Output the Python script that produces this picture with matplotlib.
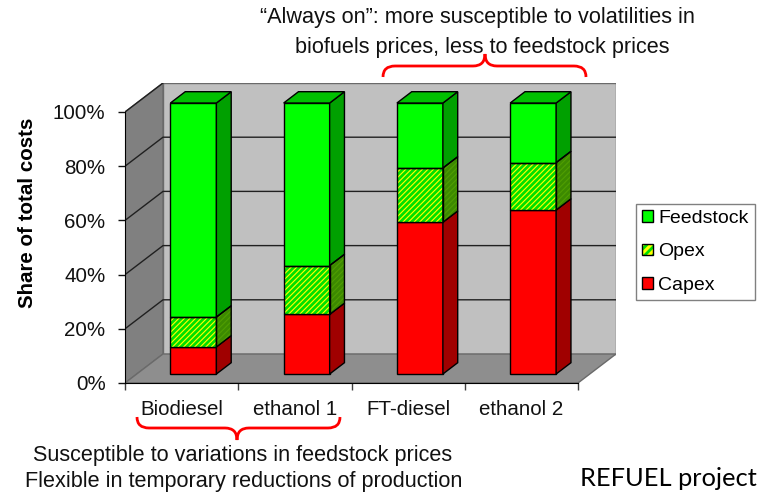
import matplotlib
matplotlib.use("Agg")
import matplotlib.pyplot as plt
from matplotlib.patches import Polygon, Patch, PathPatch
from matplotlib.path import Path
import numpy as np

categories = ["Biodiesel", "ethanol 1", "FT-diesel", "ethanol 2"]
capex = [10, 22, 56, 60.5]
opex = [11, 18, 20, 17.5]
feedstock = [79, 60, 24, 22]
y_ticks = [0, 20, 40, 60, 80, 100]

plt.rcParams["font.family"] = ["Liberation Sans", "DejaVu Sans"]
plt.rcParams["hatch.linewidth"] = 2.0

W, H = 758, 493
fig = plt.figure(figsize=(W / 100, H / 100), dpi=100)
fig.patch.set_facecolor("white")


def px(x, y):
    return (x / W, 1 - y / H)


# depth of the fake 3d box (x in category units, y in percent)
DX, DY = 0.3355, 10.7
F0, F1 = 0.31, 0.70          # front / back of the bars inside the depth
BW = 0.406
n = len(categories)

front_w = 453
ax = fig.add_axes([125 / W, 1 - 383 / H, front_w * (n + DX) / n / W, 300 / H])
ax.set_xlim(-0.5, n - 0.5 + DX)
ax.set_ylim(0, 100 + DY)
ax.patch.set_visible(False)

x0, x1 = -0.5, n - 0.5
wall_edge = "#6a6a6a"
# back wall, left wall, floor
ax.add_patch(Polygon([(x0 + DX, DY), (x1 + DX, DY), (x1 + DX, 100 + DY), (x0 + DX, 100 + DY)],
                     facecolor="#c0c0c0", edgecolor=wall_edge, lw=1, zorder=1))
ax.add_patch(Polygon([(x0, 0), (x0, 100), (x0 + DX, 100 + DY), (x0 + DX, DY)],
                     facecolor="#808080", edgecolor=wall_edge, lw=1, zorder=1))
ax.add_patch(Polygon([(x0, 0), (x1, 0), (x1 + DX, DY), (x0 + DX, DY)],
                     facecolor="#8e8e8e", edgecolor=wall_edge, lw=1, zorder=1))
for v in y_ticks[1:-1]:
    ax.plot([x0, x0 + DX, x1 + DX], [v, v + DY, v + DY], color="#202020", lw=1, zorder=1.5)
ax.plot([x0, x0 + DX], [100, 100 + DY], color="#202020", lw=1, zorder=1.5)

xs = np.arange(n)
bx = xs + F0 * DX
by = F0 * DY
sdx, sdy = (F1 - F0) * DX, (F1 - F0) * DY

capex = np.array(capex, dtype=float)
opex = np.array(opex, dtype=float)
feedstock = np.array(feedstock, dtype=float)
segments = [
    (capex, np.zeros(n), "#ff0000", "#a00000", None),
    (opex, capex, "#ffff00", "#4f9e00", "#00e000"),
    (feedstock, capex + opex, "#00ff00", "#00a000", None),
]

for vals, base, front, side, hatch_col in segments:
    if hatch_col:
        ax.bar(bx, vals, bottom=base + by, width=BW, color=front, hatch="//////",
               edgecolor=hatch_col, lw=0, zorder=3)
        ax.bar(bx, vals, bottom=base + by, width=BW, fill=False, edgecolor="black", lw=1, zorder=3.1)
    else:
        ax.bar(bx, vals, bottom=base + by, width=BW, color=front, edgecolor="black", lw=1, zorder=3)
    for i in range(n):
        xr = bx[i] + BW / 2
        y0 = base[i] + by
        y1 = y0 + vals[i]
        pts = [(xr, y0), (xr + sdx, y0 + sdy), (xr + sdx, y1 + sdy), (xr, y1)]
        if hatch_col:
            ax.add_patch(Polygon(pts, facecolor=side, hatch="//////", edgecolor="#3c8a00", lw=0, zorder=3))
            ax.add_patch(Polygon(pts, fill=False, edgecolor="black", lw=1, zorder=3.1))
        else:
            ax.add_patch(Polygon(pts, facecolor=side, edgecolor="black", lw=1, zorder=3))

# top faces
tops = capex + opex + feedstock
for i in range(n):
    xl, xr = bx[i] - BW / 2, bx[i] + BW / 2
    t = tops[i] + by
    ax.add_patch(Polygon([(xl, t), (xr, t), (xr + sdx, t + sdy), (xl + sdx, t + sdy)],
                         facecolor="#00c000", edgecolor="black", lw=1, zorder=3))

for s in ["top", "right"]:
    ax.spines[s].set_visible(False)
ax.spines["left"].set_bounds(0, 100)
ax.spines["bottom"].set_bounds(x0, x1)
ax.spines["left"].set_zorder(2)
ax.spines["bottom"].set_zorder(2)

ax.set_yticks(y_ticks)
ax.set_yticklabels([f"{v}%" for v in y_ticks])
ax.tick_params(axis="y", direction="out", length=5, width=1, pad=9, labelsize=14.8, colors="#111111")
ax.set_xticks(xs)
ax.set_xticklabels(categories)
ax.set_xticks(np.arange(x0, x1 + 0.01, 1.0), minor=True)
ax.tick_params(axis="x", which="major", length=0, pad=12, labelsize=14.8, labelcolor="#111111")
ax.tick_params(axis="x", which="minor", length=5, width=1, color="#404040")

fig.text(*px(28, 213), "Share of total costs", rotation=90, fontweight="bold",
         ha="center", va="center", fontsize=14.8)

note = dict(ha="center", va="center", fontsize=15.6, color="#111111")
fig.text(*px(477, 18), "\u201cAlways on\u201d: more susceptible to volatilities in", **note)
fig.text(*px(482, 47), "biofuels prices, less to feedstock prices", **note)
fig.text(*px(243, 456), "Susceptible to variations in feedstock prices", **note)
fig.text(*px(244, 481), "Flexible in temporary reductions of production", **note)
fig.text(*px(580, 478), "REFUEL project", ha="left", va="center",
         fontsize=18.3, family="Lato")


def brace(xa, xb, xc, y_end, y_mid, y_tip, r=12):
    pts = [(xa, y_end), (xa, y_mid), (xa + r, y_mid),
           (xc - r, y_mid), (xc, y_mid), (xc, y_tip),
           (xc, y_mid), (xc + r, y_mid),
           (xb - r, y_mid), (xb, y_mid), (xb, y_end)]
    codes = [Path.MOVETO, Path.CURVE3, Path.CURVE3,
             Path.LINETO, Path.CURVE3, Path.CURVE3,
             Path.CURVE3, Path.CURVE3,
             Path.LINETO, Path.CURVE3, Path.CURVE3]
    path = Path([px(x, y) for x, y in pts], codes)
    fig.add_artist(PathPatch(path, transform=fig.transFigure, fill=False,
                             edgecolor="#ff0000", lw=2))


brace(137, 340, 237, 417, 428, 440)
brace(383, 586, 485, 77, 66, 54)

handles = [
    Patch(facecolor="#00ff00", edgecolor="black", lw=1),
    (Patch(facecolor="#ffff00", hatch="////", edgecolor="#00e000", lw=0),
     Patch(fill=False, edgecolor="black", lw=1)),
    Patch(facecolor="#ff0000", edgecolor="black", lw=1),
]
leg = fig.legend(handles, ["Feedstock", "Opex", "Capex"], loc="upper left",
                 bbox_to_anchor=px(636, 204), borderaxespad=0, fontsize=14,
                 handlelength=0.55, handleheight=0.55, handletextpad=0.3,
                 labelspacing=0.85, borderpad=0.3, fancybox=False,
                 edgecolor="#808080", framealpha=1)
leg.get_frame().set_linewidth(1)

fig.savefig("out.png", dpi=100)
